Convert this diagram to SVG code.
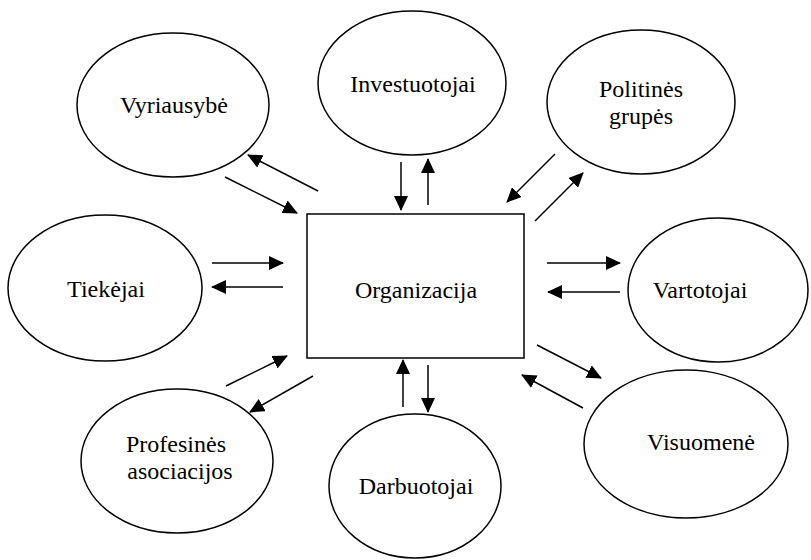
<svg xmlns="http://www.w3.org/2000/svg" width="811" height="560" viewBox="0 0 811 560">
  <style>
    .node ellipse { fill: #ffffff; stroke: #000000; stroke-width: 1.5; }
    .node rect { fill: #ffffff; stroke: #000000; stroke-width: 1.5; }
    .label { font-size: 24px; fill: #000000; text-anchor: middle; }
    .links line { stroke: #000000; stroke-width: 1.5; marker-end: url(#head); }
  </style>
  <defs>
    <marker id="head" viewBox="0 0 15 14" refX="14" refY="7" markerWidth="15" markerHeight="14" markerUnits="userSpaceOnUse" orient="auto">
      <path d="M0,0 L15,7 L0,14 Z" fill="#000000"/>
    </marker>
  </defs>
  <rect width="811" height="560" fill="#ffffff"/>

  <g font-family="'Liberation Serif', 'DejaVu Serif', serif">
    <!-- central organisation box -->
    <g id="organizacija" class="node">
      <rect x="307" y="214" width="217" height="144"/>
      <text class="label" x="416" y="298">Organizacija</text>
    </g>

    <!-- surrounding stakeholders -->
    <g id="vyriausybe" class="node">
      <ellipse cx="173" cy="105" rx="96" ry="72"/>
      <text class="label" x="174" y="113">Vyriausybė</text>
    </g>
    <g id="investuotojai" class="node">
      <ellipse cx="412" cy="83" rx="94" ry="72"/>
      <text class="label" x="413" y="92">Investuotojai</text>
    </g>
    <g id="politines-grupes" class="node">
      <ellipse cx="641" cy="102" rx="94" ry="72"/>
      <text class="label" x="641" y="97">Politinės</text>
      <text class="label" x="641" y="124">grupės</text>
    </g>
    <g id="tiekejai" class="node">
      <ellipse cx="105" cy="288" rx="97" ry="73"/>
      <text class="label" x="106" y="297">Tiekėjai</text>
    </g>
    <g id="vartotojai" class="node">
      <ellipse cx="718" cy="290" rx="90" ry="72"/>
      <text class="label" x="700" y="298">Vartotojai</text>
    </g>
    <g id="profesines-asociacijos" class="node">
      <ellipse cx="177" cy="461" rx="96" ry="72"/>
      <text class="label" x="176" y="452">Profesinės</text>
      <text class="label" x="180" y="479">asociacijos</text>
    </g>
    <g id="darbuotojai" class="node">
      <ellipse cx="415" cy="486" rx="86" ry="72"/>
      <text class="label" x="416" y="494">Darbuotojai</text>
    </g>
    <g id="visuomene" class="node">
      <ellipse cx="686" cy="444" rx="102" ry="74"/>
      <text class="label" x="701" y="450">Visuomenė</text>
    </g>
  </g>

  <!-- two-way exchange arrows -->
  <g id="connectors" class="links">
    <line x1="318" y1="191" x2="248" y2="155"/>
    <line x1="225" y1="177" x2="297" y2="213"/>
    <line x1="401" y1="162" x2="401" y2="210"/>
    <line x1="428" y1="205" x2="428" y2="159"/>
    <line x1="555" y1="154" x2="507" y2="202"/>
    <line x1="535" y1="221" x2="583" y2="173"/>
    <line x1="212" y1="263" x2="283" y2="263"/>
    <line x1="283" y1="287" x2="212" y2="287"/>
    <line x1="547" y1="263" x2="620" y2="263"/>
    <line x1="620" y1="292" x2="548" y2="292"/>
    <line x1="226" y1="386" x2="287" y2="356"/>
    <line x1="313" y1="376" x2="250" y2="412"/>
    <line x1="403" y1="407" x2="403" y2="360"/>
    <line x1="428" y1="365" x2="428" y2="412"/>
    <line x1="537" y1="345" x2="601" y2="378"/>
    <line x1="583" y1="408" x2="522" y2="375"/>
  </g>
</svg>
